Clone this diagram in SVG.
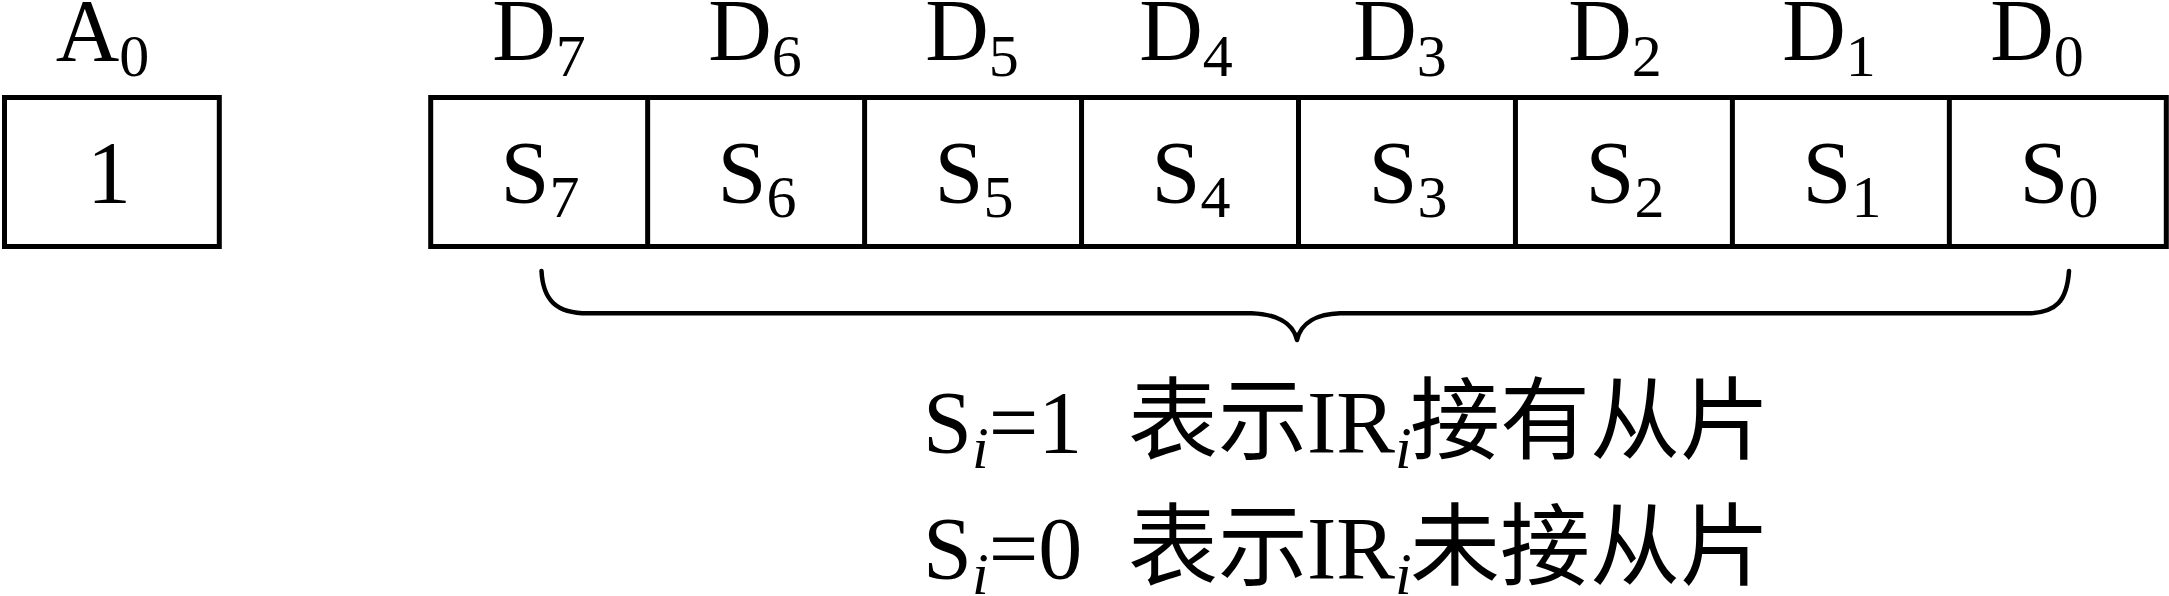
<svg xmlns="http://www.w3.org/2000/svg" width="2169" height="596" viewBox="0 0 2169 596">
<style>
.box{fill:#fff;stroke:#000;stroke-width:5}
.div{stroke:#000;stroke-width:5}
.brace{fill:none;stroke:#000;stroke-width:4.5;stroke-linecap:round;stroke-linejoin:round}
text{font-family:"Liberation Serif","Times New Roman","Noto Sans CJK SC",serif;font-size:88px;fill:#000}
.mid{text-anchor:middle}
.sub{font-size:60px}
.it{font-style:italic}
.cjk{font-family:"Noto Sans CJK SC","Noto Sans CJK JP",sans-serif;font-size:90px}
</style>
<g id="node-a0">
<rect class="box" x="4.5" y="97.5" width="214.8" height="149"/>
<text class="mid" x="102.5" y="60">A<tspan class="sub" dy="16">0</tspan></text>
<text class="mid" x="109" y="201.7">1</text>
</g>
<g id="node-register">
<rect class="box" x="430.7" y="97.5" width="1735.6" height="149"/>
<line class="div" x1="647.65" y1="97.5" x2="647.65" y2="246.5"/>
<line class="div" x1="864.6" y1="97.5" x2="864.6" y2="246.5"/>
<line class="div" x1="1081.55" y1="97.5" x2="1081.55" y2="246.5"/>
<line class="div" x1="1298.5" y1="97.5" x2="1298.5" y2="246.5"/>
<line class="div" x1="1515.45" y1="97.5" x2="1515.45" y2="246.5"/>
<line class="div" x1="1732.4" y1="97.5" x2="1732.4" y2="246.5"/>
<line class="div" x1="1949.35" y1="97.5" x2="1949.35" y2="246.5"/>
</g>
<g id="node-labels-d">
<text class="mid" x="539" y="60">D<tspan class="sub" dy="16">7</tspan></text>
<text class="mid" x="755" y="60">D<tspan class="sub" dy="16">6</tspan></text>
<text class="mid" x="972" y="60">D<tspan class="sub" dy="16">5</tspan></text>
<text class="mid" x="1186" y="60">D<tspan class="sub" dy="16">4</tspan></text>
<text class="mid" x="1400" y="60">D<tspan class="sub" dy="16">3</tspan></text>
<text class="mid" x="1615" y="60">D<tspan class="sub" dy="16">2</tspan></text>
<text class="mid" x="1829" y="60">D<tspan class="sub" dy="16">1</tspan></text>
<text class="mid" x="2037" y="60">D<tspan class="sub" dy="16">0</tspan></text>
</g>
<g id="node-labels-s">
<text class="mid" x="540" y="201.7">S<tspan class="sub" dy="15">7</tspan></text>
<text class="mid" x="757" y="201.7">S<tspan class="sub" dy="15">6</tspan></text>
<text class="mid" x="974" y="201.7">S<tspan class="sub" dy="15">5</tspan></text>
<text class="mid" x="1191" y="201.7">S<tspan class="sub" dy="15">4</tspan></text>
<text class="mid" x="1408" y="201.7">S<tspan class="sub" dy="15">3</tspan></text>
<text class="mid" x="1625" y="201.7">S<tspan class="sub" dy="15">2</tspan></text>
<text class="mid" x="1842" y="201.7">S<tspan class="sub" dy="15">1</tspan></text>
<text class="mid" x="2059" y="201.7">S<tspan class="sub" dy="15">0</tspan></text>
</g>
<g id="connectors">
<path class="brace" d="M541.5,271 C543,300 556,313.3 588,313.3 L1251.7,313.3 C1275,314 1293,322 1297,340 C1301,322 1318,314 1340,313.3 L2026.7,313.3 C2057,313.3 2067,300 2069,271"/>
</g>
<g id="node-legend">
<text x="923" y="451.7">S<tspan class="sub it" dy="16">i</tspan><tspan dy="-16">=1</tspan><tspan class="cjk" x="1128">表示</tspan><tspan x="1307">IR</tspan><tspan class="sub it" dy="16">i</tspan><tspan class="cjk" x="1410" dy="-16">接有从片</tspan></text>
<text x="923" y="578">S<tspan class="sub it" dy="16">i</tspan><tspan dy="-16">=0</tspan><tspan class="cjk" x="1128">表示</tspan><tspan x="1307">IR</tspan><tspan class="sub it" dy="16">i</tspan><tspan class="cjk" x="1410" dy="-16">未接从片</tspan></text>
</g>
</svg>
